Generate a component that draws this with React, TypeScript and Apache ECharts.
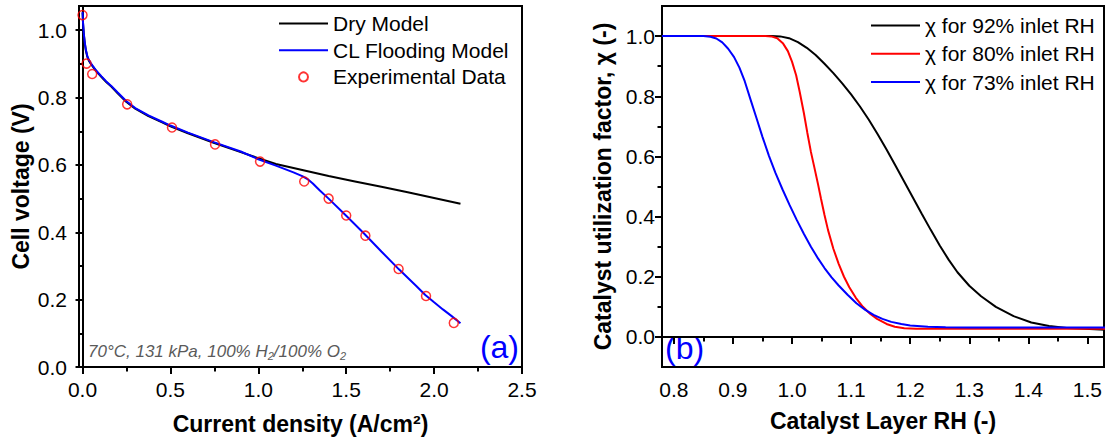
import React, { useEffect, useRef } from "react";
import * as echarts from "echarts";

// ---------- Panel (a): polarization curves ----------
const dryCurrent = [0.0005, 0.003, 0.007, 0.012, 0.019, 0.027, 0.035, 0.045, 0.06, 0.08, 0.108, 0.135, 0.165, 0.2, 0.25, 0.3, 0.375, 0.45, 0.5, 0.6, 0.75, 0.9, 1.0, 1.1, 1.25, 1.4, 1.55, 1.7, 1.85, 2.0, 2.15];
const dryVoltage = [1.052, 1.02, 0.99, 0.965, 0.94, 0.922, 0.911, 0.902, 0.891, 0.877, 0.861, 0.846, 0.832, 0.813, 0.787, 0.767, 0.745, 0.727, 0.715, 0.694, 0.665, 0.638, 0.62, 0.603, 0.585, 0.567, 0.551, 0.535, 0.519, 0.502, 0.485];

const floodCurrent = [0.0005, 0.003, 0.007, 0.012, 0.019, 0.027, 0.035, 0.045, 0.06, 0.08, 0.108, 0.135, 0.165, 0.2, 0.25, 0.3, 0.375, 0.45, 0.5, 0.6, 0.75, 0.9, 1.0, 1.1, 1.2, 1.25, 1.28, 1.31, 1.35, 1.4, 1.5, 1.6, 1.7, 1.8, 1.9, 1.95, 2.0, 2.05, 2.1, 2.15];
const floodVoltage = [1.054, 1.022, 0.992, 0.967, 0.942, 0.924, 0.913, 0.904, 0.893, 0.879, 0.863, 0.848, 0.834, 0.815, 0.789, 0.769, 0.747, 0.729, 0.717, 0.696, 0.667, 0.64, 0.617, 0.598, 0.578, 0.567, 0.558, 0.545, 0.524, 0.5, 0.449, 0.397, 0.343, 0.29, 0.24, 0.214, 0.192, 0.171, 0.151, 0.13];

const expCurrent = [0.0, 0.023, 0.055, 0.254, 0.509, 0.754, 1.01, 1.261, 1.4, 1.5, 1.609, 1.798, 1.954, 2.112];
const expVoltage = [1.045, 0.901, 0.87, 0.78, 0.711, 0.661, 0.61, 0.551, 0.5, 0.45, 0.39, 0.291, 0.211, 0.131];

const leftXLabels = [0, 0.5, 1.0, 1.5, 2.0, 2.5];
const leftXMinor = [0.25, 0.75, 1.25, 1.75, 2.25];
const leftYLabels = [0, 0.2, 0.4, 0.6, 0.8, 1.0];
const leftYMinor = [0.1, 0.3, 0.5, 0.7, 0.9];

// ---------- Panel (b): catalyst utilization factor ----------
const rh92 = [0.78, 0.965, 0.98, 0.995, 1.01, 1.025, 1.04, 1.055, 1.07, 1.085, 1.1, 1.115, 1.13, 1.145, 1.16, 1.175, 1.19, 1.205, 1.22, 1.235, 1.25, 1.265, 1.28, 1.3, 1.32, 1.345, 1.375, 1.405, 1.435, 1.465, 1.495, 1.53];
const chi92 = [1.0, 1.0, 0.999, 0.993, 0.98, 0.961, 0.937, 0.908, 0.877, 0.843, 0.806, 0.766, 0.722, 0.674, 0.623, 0.57, 0.516, 0.462, 0.408, 0.355, 0.304, 0.257, 0.215, 0.17, 0.135, 0.1, 0.069, 0.048, 0.036, 0.03, 0.027, 0.024];

const rh80 = [0.78, 0.955, 0.965, 0.975, 0.985, 0.993, 1.0, 1.007, 1.013, 1.02, 1.026, 1.032, 1.038, 1.044, 1.049, 1.055, 1.061, 1.07, 1.079, 1.088, 1.097, 1.108, 1.12, 1.132, 1.144, 1.16, 1.174, 1.19, 1.21, 1.25, 1.53];
const chi80 = [1.0, 1.0, 0.999, 0.993, 0.975, 0.95, 0.915, 0.87, 0.815, 0.745, 0.678, 0.615, 0.562, 0.508, 0.46, 0.405, 0.355, 0.293, 0.243, 0.2, 0.165, 0.13, 0.1, 0.077, 0.06, 0.043, 0.034, 0.029, 0.027, 0.027, 0.027];

const rh73 = [0.78, 0.85, 0.862, 0.872, 0.882, 0.892, 0.902, 0.911, 0.92, 0.93, 0.94, 0.95, 0.961, 0.972, 0.984, 0.996, 1.008, 1.02, 1.032, 1.044, 1.055, 1.067, 1.079, 1.094, 1.109, 1.124, 1.138, 1.153, 1.168, 1.185, 1.2, 1.23, 1.26, 1.3, 1.4, 1.53];
const chi73 = [1.0, 1.0, 0.998, 0.992, 0.979, 0.958, 0.93, 0.895, 0.85, 0.788, 0.727, 0.665, 0.602, 0.545, 0.49, 0.438, 0.389, 0.343, 0.3, 0.261, 0.229, 0.198, 0.171, 0.14, 0.112, 0.09, 0.073, 0.06, 0.05, 0.043, 0.038, 0.034, 0.032, 0.031, 0.031, 0.031];

const rightXLabels = [0.8, 0.9, 1.0, 1.1, 1.2, 1.3, 1.4, 1.5];
const rightXMinor = [0.85, 0.95, 1.05, 1.15, 1.25, 1.35, 1.45];
const rightYLabels = [0, 0.2, 0.4, 0.6, 0.8, 1.0];
const rightYMinor = [0.1, 0.3, 0.5, 0.7, 0.9];

const zip = (xs: number[], ys: number[]) => xs.map((x, i) => [x, ys[i]]);

const FONT = "'Liberation Sans', Arial, sans-serif";
const fmt = (v: number) => v.toFixed(1);
const LINE_ICON = "path://M0,0H49V2H0Z";

function majorAxis(o: any) {
  return {
    type: "value",
    gridIndex: o.grid,
    position: o.position,
    min: o.min,
    max: o.max,
    name: o.name,
    nameLocation: "middle",
    nameGap: o.nameGap,
    nameTextStyle: { fontFamily: FONT, fontWeight: "bold", fontSize: 23, color: "#000" },
    axisLine: { show: true, lineStyle: { color: "#000", width: 2 } },
    axisTick: { show: true, inside: false, length: 7, lineStyle: { color: "#000", width: 2 }, customValues: o.labels },
    axisLabel: { show: true, customValues: o.labels, formatter: fmt, fontFamily: FONT, fontSize: 21, color: "#000", margin: o.margin },
    splitLine: { show: false },
  };
}

function minorAxis(o: any) {
  return {
    type: "value",
    gridIndex: o.grid,
    position: o.position,
    min: o.min,
    max: o.max,
    axisLine: { show: false },
    axisTick: { show: true, inside: false, length: 4.5, lineStyle: { color: "#000", width: 2 }, customValues: o.ticks },
    axisLabel: { show: false },
    splitLine: { show: false },
  };
}

export default function App() {
  const ref = useRef<HTMLDivElement>(null);
  useEffect(() => {
    document.body.style.margin = "0";
    const chart = echarts.init(ref.current!, null, { renderer: "svg" });
    const lineBase = { type: "line", symbol: "none", smooth: false, clip: true };
    const legendText = { fontFamily: FONT, fontSize: 21, lineHeight: 21, color: "#000" };
    const option: any = {
      animation: false,
      backgroundColor: "#fff",
      grid: [
        { left: 79, top: 6, width: 443, height: 361, show: true, borderColor: "#000", borderWidth: 2, containLabel: false },
        { left: 662, top: 6, width: 442, height: 361, show: true, borderColor: "#000", borderWidth: 2, containLabel: false },
      ],
      xAxis: [
        majorAxis({ grid: 0, position: "bottom", min: -0.02, max: 2.5, labels: leftXLabels, name: "Current density (A/cm²)", nameGap: 45, margin: 12 }),
        minorAxis({ grid: 0, position: "bottom", min: -0.02, max: 2.5, ticks: leftXMinor }),
        majorAxis({ grid: 1, position: "bottom", min: 0.78, max: 1.528, labels: rightXLabels, name: "Catalyst Layer RH (-)", nameGap: 42, margin: 12 }),
        minorAxis({ grid: 1, position: "bottom", min: 0.78, max: 1.528, ticks: rightXMinor }),
      ],
      yAxis: [
        majorAxis({ grid: 0, position: "left", min: 0, max: 1.072, labels: leftYLabels, name: "Cell voltage (V)", nameGap: 47, margin: 12 }),
        minorAxis({ grid: 0, position: "left", min: 0, max: 1.072, ticks: leftYMinor }),
        majorAxis({ grid: 1, position: "left", min: -0.1, max: 1.1, labels: rightYLabels, name: "Catalyst utilization factor, χ (-)", nameGap: 48, margin: 7 }),
        minorAxis({ grid: 1, position: "left", min: -0.1, max: 1.1, ticks: rightYMinor }),
      ],
      legend: [
        {
          data: [
            { name: "Dry Model", icon: LINE_ICON, itemStyle: { color: "#000" } },
            { name: "CL Flooding Model", icon: LINE_ICON, itemStyle: { color: "#0000ff" } },
            { name: "Experimental Data" },
          ],
          orient: "vertical",
          left: 279,
          top: 13,
          padding: 0,
          itemWidth: 49,
          itemHeight: 9,
          itemGap: 5.7,
          selectedMode: false,
          textStyle: legendText,
        },
        {
          data: [
            { name: "χ for 92% inlet RH", icon: LINE_ICON, itemStyle: { color: "#000" } },
            { name: "χ for 80% inlet RH", icon: LINE_ICON, itemStyle: { color: "#ff0000" } },
            { name: "χ for 73% inlet RH", icon: LINE_ICON, itemStyle: { color: "#0000ff" } },
          ],
          orient: "vertical",
          left: 871,
          top: 15,
          padding: 0,
          itemWidth: 49,
          itemHeight: 9,
          itemGap: 7.3,
          selectedMode: false,
          textStyle: legendText,
        },
      ],
      series: [
        { ...lineBase, name: "Dry Model", xAxisIndex: 0, yAxisIndex: 0, data: zip(dryCurrent, dryVoltage), lineStyle: { color: "#000", width: 2 }, itemStyle: { color: "#000" } },
        { ...lineBase, name: "CL Flooding Model", xAxisIndex: 0, yAxisIndex: 0, data: zip(floodCurrent, floodVoltage), lineStyle: { color: "#0000ff", width: 2 }, itemStyle: { color: "#0000ff" } },
        {
          type: "scatter",
          name: "Experimental Data",
          xAxisIndex: 0,
          yAxisIndex: 0,
          symbol: "circle",
          symbolSize: 9,
          data: zip(expCurrent, expVoltage),
          itemStyle: { color: "rgba(255,255,255,0)", borderColor: "#ff0000", borderWidth: 1.5 },
          z: 5,
        },
        { ...lineBase, name: "χ for 92% inlet RH", xAxisIndex: 2, yAxisIndex: 2, data: zip(rh92, chi92), lineStyle: { color: "#000", width: 2 }, itemStyle: { color: "#000" } },
        { ...lineBase, name: "χ for 80% inlet RH", xAxisIndex: 2, yAxisIndex: 2, data: zip(rh80, chi80), lineStyle: { color: "#ff0000", width: 2 }, itemStyle: { color: "#ff0000" } },
        { ...lineBase, name: "χ for 73% inlet RH", xAxisIndex: 2, yAxisIndex: 2, data: zip(rh73, chi73), lineStyle: { color: "#0000ff", width: 2 }, itemStyle: { color: "#0000ff" } },
      ],
      graphic: [
        {
          type: "text",
          x: 88,
          y: 351,
          style: {
            text: "{a|70°C, 131 kPa, 100% H}{s|2}{a|/100% O}{s|2}",
            verticalAlign: "middle",
            align: "left",
            rich: {
              a: { fontFamily: FONT, fontSize: 17, fontStyle: "italic", fill: "#5a5a5a", lineHeight: 20 },
              s: { fontFamily: FONT, fontSize: 11, fontStyle: "italic", fill: "#5a5a5a", verticalAlign: "bottom", lineHeight: 11 },
            },
          },
        },
        {
          type: "text",
          x: 519,
          y: 347,
          style: { text: "(a)", fontFamily: FONT, fontSize: 32, fill: "#0000ff", align: "right", verticalAlign: "middle" },
        },
        {
          type: "text",
          x: 665,
          y: 348,
          style: { text: "(b)", fontFamily: FONT, fontSize: 32, fill: "#0000ff", align: "left", verticalAlign: "middle" },
        },
      ],
    };
    chart.setOption(option);
    return () => chart.dispose();
  }, []);
  return <div ref={ref} style={{ width: 1107, height: 441 }} />;
}
